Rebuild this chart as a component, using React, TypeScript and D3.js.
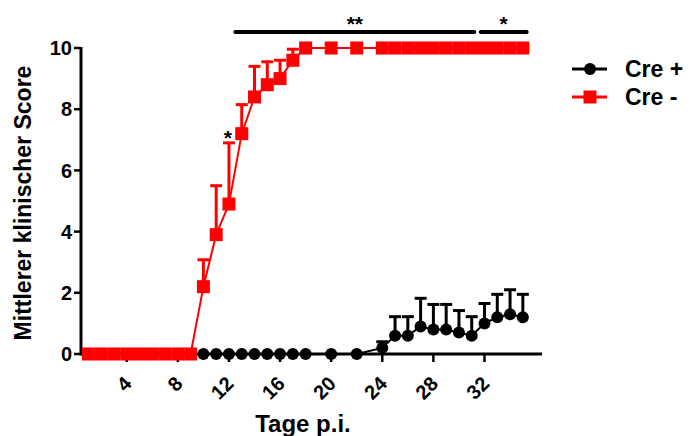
import React from "react";
import * as d3 from "d3";

const days = [1, 2, 3, 4, 5, 6, 7, 8, 9, 10, 11, 12, 13, 14, 15, 16, 17, 18, 20, 22, 24, 25, 26, 27, 28, 29, 30, 31, 32, 33, 34, 35];
const crePlus = [0, 0, 0, 0, 0, 0, 0, 0, 0, 0, 0, 0, 0, 0, 0, 0, 0, 0, 0, 0, 0.2, 0.6, 0.6, 0.9, 0.8, 0.8, 0.7, 0.6, 1.0, 1.2, 1.3, 1.2];
const crePlusSem = [0, 0, 0, 0, 0, 0, 0, 0, 0, 0, 0, 0, 0, 0, 0, 0, 0, 0, 0, 0, 0.2, 0.62, 0.62, 0.92, 0.82, 0.82, 0.72, 0.62, 0.65, 0.75, 0.8, 0.75];
const creMinus = [0, 0, 0, 0, 0, 0, 0, 0, 0, 2.2, 3.9, 4.9, 7.2, 8.4, 8.8, 9.0, 9.6, 10, 10, 10, 10, 10, 10, 10, 10, 10, 10, 10, 10, 10, 10, 10];
const creMinusSem = [0, 0, 0, 0, 0, 0, 0, 0, 0, 0.88, 1.6, 2.0, 0.95, 1.0, 0.75, 0.6, 0.36, 0, 0, 0, 0, 0, 0, 0, 0, 0, 0, 0, 0, 0, 0, 0];
const xTicks = [4, 8, 12, 16, 20, 24, 28, 32];
const yTicks = [0, 2, 4, 6, 8, 10];
// significance brackets: [from day, to day, label]
const sigBars: [number, number, string][] = [[12.5, 31.2, "**"], [31.7, 35.3, "*"]];
const sigDay = 12;

const W = 691, H = 436;
const font = "'Liberation Sans', Arial, sans-serif";

export default function App() {
  const x = d3.scaleLinear().domain([0.42, 36.5]).range([81, 542]);
  const y = d3.scaleLinear().domain([0, 10]).range([354, 48]);

  const series = [
    { name: "Cre +", vals: crePlus, sem: crePlusSem, color: "#000000", shape: "circle" },
    { name: "Cre -", vals: creMinus, sem: creMinusSem, color: "#ff0000", shape: "square" },
  ];

  const line = d3.line<number>().x((_, i) => x(days[i])).y(v => y(v));

  return (
    <svg width={W} height={H} style={{ position: "absolute", left: 0, top: 0, background: "#fff" }} fontFamily={font}>
      {/* y axis */}
      <line x1={x.range()[0]} x2={x.range()[0]} y1={y(10) - 1} y2={y(0) + 1.5} stroke="#000" strokeWidth={3} />
      {yTicks.map(t => (
        <g key={t}>
          <line x1={x.range()[0] - 7} x2={x.range()[0]} y1={y(t)} y2={y(t)} stroke="#000" strokeWidth={2.5} />
          <text x={x.range()[0] - 9} y={y(t)} dy="0.36em" textAnchor="end" fontSize={20} fontWeight="bold">{t}</text>
        </g>
      ))}
      {/* x axis */}
      <line x1={x.range()[0]} x2={x.range()[1]} y1={y(0)} y2={y(0)} stroke="#000" strokeWidth={3} />
      {xTicks.map(t => (
        <g key={t}>
          <line x1={x(t)} x2={x(t)} y1={y(0)} y2={y(0) + 8} stroke="#000" strokeWidth={2.5} />
          <text transform={`translate(${x(t) + 6},${y(0) + 31}) rotate(-45)`} textAnchor="end" fontSize={20} fontWeight="bold">{t}</text>
        </g>
      ))}
      <text x={303} y={432} textAnchor="middle" fontSize={24} fontWeight="bold">Tage p.i.</text>
      <text transform={`translate(31,203) rotate(-90)`} textAnchor="middle" fontSize={23} fontWeight="bold">Mittlerer klinischer Score</text>

      {series.map(s => (
        <g key={s.name}>
          {s.vals.map((v, i) => s.sem[i] > 0 ? (
            <g key={i}>
              <line x1={x(days[i])} x2={x(days[i])} y1={y(v)} y2={y(v + s.sem[i])} stroke={s.color} strokeWidth={3} />
              <line x1={x(days[i]) - 6} x2={x(days[i]) + 6} y1={y(v + s.sem[i])} y2={y(v + s.sem[i])} stroke={s.color} strokeWidth={3} />
            </g>
          ) : null)}
          <path d={line(s.vals) || ""} fill="none" stroke={s.color} strokeWidth={2} />
          {s.vals.map((v, i) => s.shape === "circle"
            ? <circle key={i} cx={x(days[i])} cy={y(v)} r={6} fill={s.color} />
            : <rect key={i} x={x(days[i]) - 6.5} y={y(v) - 6.5} width={13} height={13} fill={s.color} />)}
        </g>
      ))}

      {/* significance */}
      {sigBars.map(([a, b, lab]) => (
        <g key={lab}>
          <line x1={x(a)} x2={x(b)} y1={32} y2={32} stroke="#000" strokeWidth={4} strokeLinecap="round" />
          <text x={(x(a) + x(b)) / 2} y={31} textAnchor="middle" fontSize={21} fontWeight="bold">{lab}</text>
        </g>
      ))}
      <text x={x(sigDay) - 1} y={145} textAnchor="middle" fontSize={21} fontWeight="bold">*</text>

      {/* legend */}
      {series.map((s, i) => {
        const ly = 69 + i * 28;
        return (
          <g key={s.name}>
            <line x1={572} x2={607} y1={ly} y2={ly} stroke={s.color} strokeWidth={3} />
            {s.shape === "circle"
              ? <circle cx={590} cy={ly} r={6} fill={s.color} />
              : <rect x={583.5} y={ly - 6.5} width={13} height={13} fill={s.color} />}
            <text x={625} y={ly} dy="0.36em" fontSize={23} fontWeight="bold">{s.name}</text>
          </g>
        );
      })}
    </svg>
  );
}
